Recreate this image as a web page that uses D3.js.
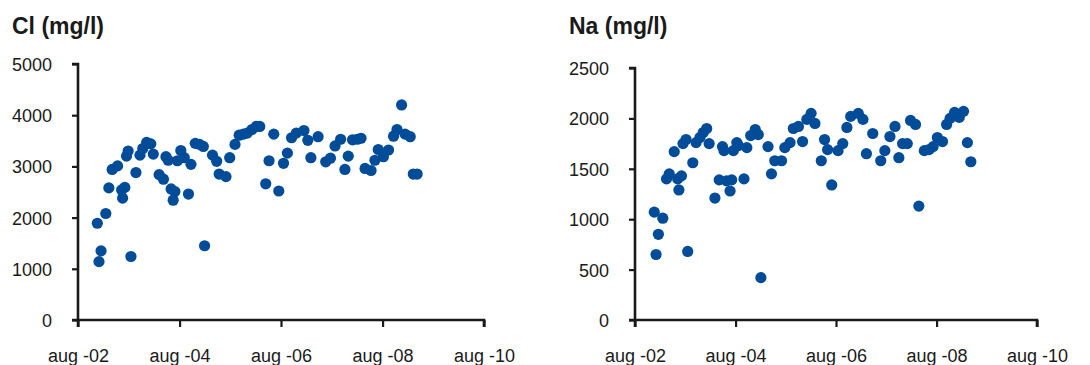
<!DOCTYPE html>
<html>
<head>
<meta charset="utf-8">
<script src="https://cdn.jsdelivr.net/npm/d3@7"></script>
<style>
  body { margin: 0; background: #fff; }
  svg text { font-family: "Liberation Sans", Arial, sans-serif; fill: #1a1a1a; }
</style>
</head>
<body>
<div id="chart"></div>
<script>
// sampling dates + values
const clDates = ["2002-12-18","2003-01-14","2002-12-30","2003-02-17","2003-03-11","2003-04-04","2003-05-13","2003-06-11","2003-07-04","2003-06-18",
  "2003-08-17","2003-07-16","2003-07-28","2003-09-22","2003-10-21","2003-11-10","2003-12-08","2004-01-07","2004-01-25","2004-03-07",
  "2004-04-07","2004-04-25","2004-05-11","2004-06-01","2004-06-28","2004-06-16","2004-07-16","2004-08-10","2004-09-04","2004-10-04",
  "2004-10-22","2004-11-22","2004-12-22","2005-01-19","2005-01-28","2005-03-26","2005-04-25","2005-05-13","2005-07-01","2005-07-28",
  "2005-09-04","2005-10-04","2005-11-04","2005-12-01","2006-01-04","2006-02-04","2006-03-01","2006-04-13","2006-05-07","2006-06-10",
  "2006-07-16","2006-08-19","2006-09-16","2006-10-16","2006-11-19","2007-01-13","2007-02-10","2007-03-04","2007-04-25","2007-06-19",
  "2007-07-23","2007-08-25","2007-10-04","2007-11-04","2007-11-28","2007-12-29","2008-02-01","2008-02-28","2008-03-28","2008-05-10",
  "2008-06-07","2008-07-01","2008-08-07","2008-09-13","2008-10-19","2008-11-13","2008-12-16","2009-01-10","2009-02-16","2009-03-10",
  "2009-04-07"];
const clValues = [1890,1350,1140,2080,2580,2940,3010,2540,2590,2380,
  1240,3200,3300,2880,3220,3350,3470,3440,3240,2840,
  2750,3190,3120,2560,2510,2340,3110,3310,3170,2460,
  3040,3450,3430,3390,1450,3220,3100,2850,2800,3170,
  3430,3610,3630,3650,3720,3780,3780,2660,3110,3630,
  2520,3060,3260,3560,3650,3700,3510,3170,3580,3090,
  3160,3400,3530,2940,3200,3520,3530,3550,2960,2920,
  3120,3330,3190,3320,3590,3720,4200,3630,3580,2850,
  2850];

const naDates = ["2002-12-19","2003-01-18","2003-01-01","2003-02-19","2003-03-18","2003-04-07","2003-05-13","2003-06-07","2003-07-05","2003-06-16",
  "2003-08-19","2003-07-16","2003-08-07","2003-09-25","2003-10-19","2003-11-16","2003-12-10","2004-01-04","2004-01-22","2004-03-04",
  "2004-04-04","2004-04-28","2004-05-09","2004-05-28","2004-06-22","2004-07-04","2004-07-16","2004-08-10","2004-08-22","2004-10-01",
  "2004-10-22","2004-11-19","2004-12-22","2005-01-13","2005-02-01","2005-03-25","2005-04-19","2005-05-13","2005-07-01","2005-07-25",
  "2005-09-01","2005-09-25","2005-11-01","2005-12-01","2006-01-01","2006-02-01","2006-03-01","2006-04-16","2006-05-10","2006-06-01",
  "2006-07-01","2006-08-16","2006-09-19","2006-10-19","2006-11-16","2007-01-10","2007-02-13","2007-03-10","2007-04-25","2007-06-22",
  "2007-07-22","2007-08-28","2007-10-04","2007-11-01","2007-11-28","2008-01-01","2008-01-25","2008-03-01","2008-03-25","2008-05-04",
  "2008-06-07","2008-07-07","2008-08-07","2008-09-13","2008-10-13","2008-11-07","2008-12-10","2009-01-13","2009-02-13","2009-03-13",
  "2009-04-07"];
const naValues = [1070,850,650,1010,1400,1450,1670,1400,1430,1290,
  680,1750,1790,1560,1760,1810,1860,1900,1750,1210,
  1390,1720,1680,1380,1280,1390,1680,1760,1730,1400,
  1710,1830,1890,1840,420,1720,1450,1580,1580,1710,
  1760,1900,1920,1770,1990,2050,1950,1580,1790,1690,
  1340,1680,1750,1910,2020,2050,1990,1650,1850,1580,
  1680,1820,1920,1610,1750,1750,1980,1940,1130,1680,
  1690,1720,1810,1770,1940,2000,2060,2010,2070,1760,
  1570];

const xTicks = ["2002-08-01","2004-08-01","2006-08-01","2008-08-01","2010-08-01"];
const clTicks = [0,1000,2000,3000,4000,5000];
const naTicks = [0,500,1000,1500,2000,2500];

const width = 1090, height = 365;
const dotColor = "#004c99";
const inkColor = "#1a1a1a";
const parse = d3.timeParse("%Y-%m-%d");

const svg = d3.select("#chart").append("svg")
    .attr("width", width)
    .attr("height", height);

function drawPanel(opts) {
    const g = svg.append("g");

    const x = d3.scaleTime()
        .domain([parse(xTicks[0]), parse(xTicks[xTicks.length - 1])])
        .range([opts.left, opts.right]);

    const y = d3.scaleLinear()
        .domain([0, opts.yTicks[opts.yTicks.length - 1]])
        .range([opts.bottom, opts.top]);

    // title
    g.append("text")
        .attr("x", opts.titleX)
        .attr("y", 34)
        .attr("font-size", "23px")
        .attr("font-weight", "bold")
        .text(opts.title);

    // y axis
    const yAxis = g.append("g")
        .attr("transform", `translate(${opts.left},0)`)
        .call(d3.axisLeft(y).tickValues(opts.yTicks).tickSize(6).tickPadding(20).tickFormat(d3.format("d")));

    // x axis
    const xAxis = g.append("g")
        .attr("transform", `translate(0,${opts.bottom})`)
        .call(d3.axisBottom(x)
            .tickValues(xTicks.map(parse))
            .tickSize(7)
            .tickPadding(22)
            .tickFormat(d => "aug -" + d3.timeFormat("%y")(d)));

    [yAxis, xAxis].forEach(a => {
        a.select(".domain").attr("stroke", inkColor).attr("stroke-width", 2.6);
        a.selectAll(".tick line").attr("stroke", inkColor).attr("stroke-width", 2.2);
        a.selectAll(".tick text").attr("font-size", "18px").attr("fill", inkColor);
    });
    yAxis.selectAll(".tick text").attr("dy", "0.36em");
    xAxis.select(".domain").attr("d", `M${opts.left},7V0H${opts.right}V7`);
    yAxis.select(".domain").attr("d", `M-6,${opts.top}H0V${opts.bottom}H-6`);

    // dots
    const pts = opts.dates.map((d, i) => ({ date: parse(d), value: opts.values[i] }));
    g.selectAll(".dot")
        .data(pts)
        .enter()
        .append("circle")
        .attr("class", "dot")
        .attr("cx", d => x(d.date))
        .attr("cy", d => y(d.value))
        .attr("r", 5.6)
        .attr("fill", dotColor);
}

drawPanel({ title: "Cl (mg/l)", titleX: 12, dates: clDates, values: clValues, yTicks: clTicks,
    left: 78, right: 484, top: 64, bottom: 320 });
drawPanel({ title: "Na (mg/l)", titleX: 569, dates: naDates, values: naValues, yTicks: naTicks,
    left: 635, right: 1037, top: 68, bottom: 320 });
</script>
</body>
</html>
